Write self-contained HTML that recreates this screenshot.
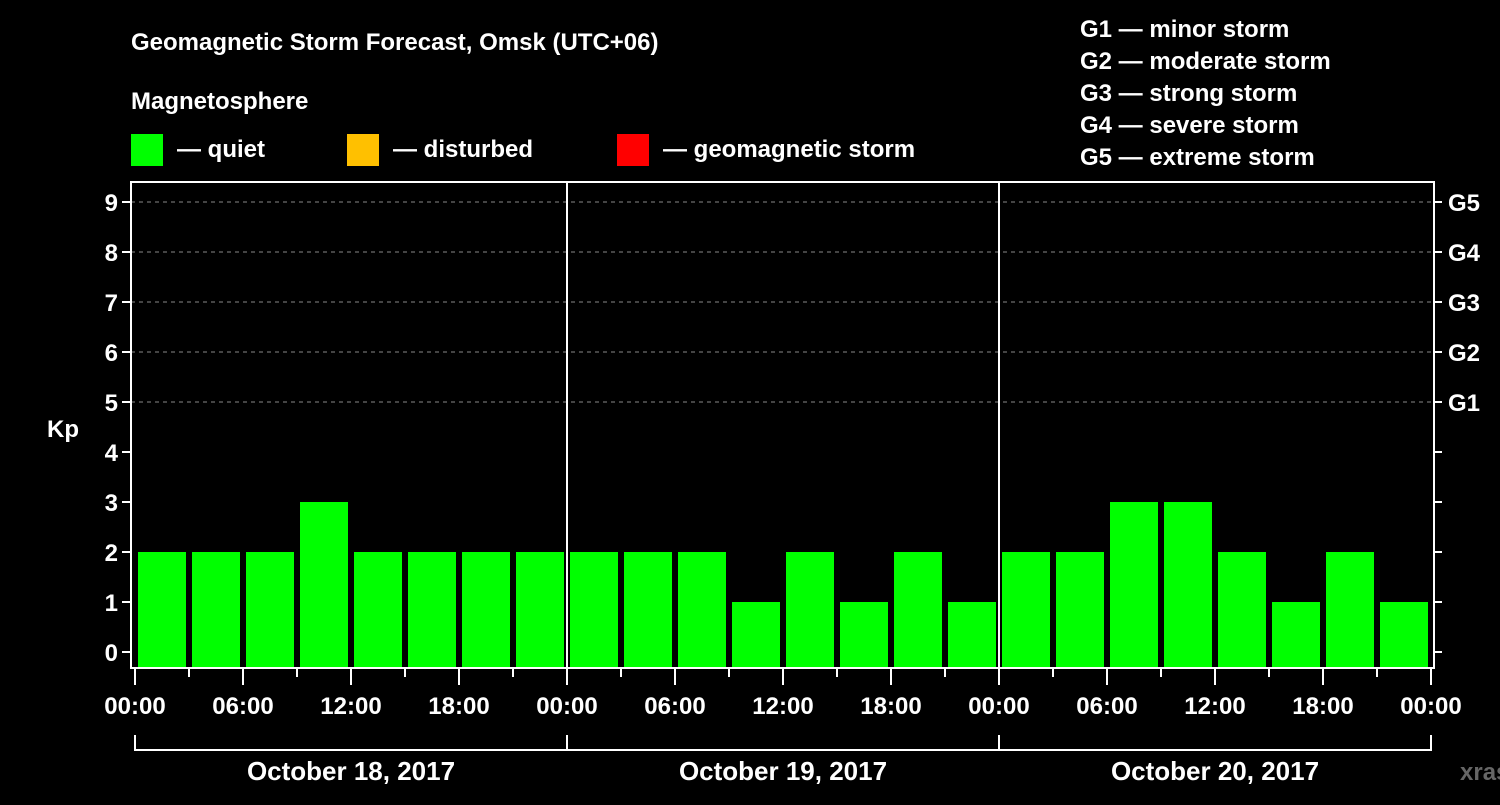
<!DOCTYPE html>
<html><head><meta charset="utf-8"><style>
body{margin:0;background:#000;width:1500px;height:800px;overflow:hidden}
svg text{font-family:"Liberation Sans",Arial,sans-serif;font-weight:bold;fill:#fff}
</style></head><body>
<svg id="c" width="1500" height="800">
<text x="131" y="50" font-size="24">Geomagnetic Storm Forecast, Omsk (UTC+06)</text>
<text x="131" y="109" font-size="24">Magnetosphere</text>
<rect x="131" y="134" width="32" height="32" fill="#00ff00"/>
<text x="177" y="157" font-size="24">— quiet</text>
<rect x="347" y="134" width="32" height="32" fill="#ffc000"/>
<text x="393" y="157" font-size="24">— disturbed</text>
<rect x="617" y="134" width="32" height="32" fill="#ff0000"/>
<text x="663" y="157" font-size="24">— geomagnetic storm</text>
<g font-size="24">
<text x="1080" y="37">G1 — minor storm</text>
<text x="1080" y="69">G2 — moderate storm</text>
<text x="1080" y="101">G3 — strong storm</text>
<text x="1080" y="133">G4 — severe storm</text>
<text x="1080" y="165">G5 — extreme storm</text>
</g>
<text x="63" y="437" font-size="24" text-anchor="middle">Kp</text>
<text x="1460" y="780" font-size="24" fill="#666" style="fill:#666">xras.ru</text>
<g id="g"></g>
</svg>
<script>
const kpValues=[2,2,2,3,2,2,2,2, 2,2,2,1,2,1,2,1, 2,2,3,3,2,1,2,1];
const dayLabels=["October 18, 2017","October 19, 2017","October 20, 2017"];
const yTicks=[0,1,2,3,4,5,6,7,8,9];
const gLabels=["G1","G2","G3","G4","G5"];
const timeLabels=["00:00","06:00","12:00","18:00"];
const X0=135,DAY=432,BOT=668,TOP=182,RIGHT=1434,LEFT=131;
const y=v=>652-v*50;
const x=i=>X0+i*DAY/8;
const g=document.getElementById('g');
const NS="http://www.w3.org/2000/svg";
function el(t,a){const e=document.createElementNS(NS,t);for(const k in a)e.setAttribute(k,a[k]);g.appendChild(e);return e;}
kpValues.forEach((v,i)=>{
 const c=v>=5?"#ff0000":(v>=4?"#ffc000":"#00ff00");
 const r=el('rect',{x:x(i)+3,y:y(v),width:48,height:BOT-y(v),fill:c});
 
 
});
yTicks.forEach(v=>{
 if(v>=5){const l=el('line',{x1:LEFT,x2:RIGHT,y1:y(v),y2:y(v),stroke:'#888','stroke-dasharray':'4,4'});
 }
 el('line',{x1:LEFT-9,x2:LEFT,y1:y(v),y2:y(v),stroke:'#fff','stroke-width':2});
 el('line',{x1:RIGHT,x2:RIGHT+8,y1:y(v),y2:y(v),stroke:'#fff','stroke-width':2});
 const t=el('text',{x:LEFT-13,y:y(v)+9,'font-size':24,'text-anchor':'end'});t.textContent=v;
 
});
gLabels.forEach((s,i)=>{const t=el('text',{x:1448,y:y(5+i)+9,'font-size':24});t.textContent=s;
 });
const f=el('rect',{x:LEFT,y:TOP,width:RIGHT-LEFT,height:BOT-TOP,fill:'none',stroke:'#fff','stroke-width':2});

for(let d=1;d<3;d++)el('line',{x1:X0+d*DAY,x2:X0+d*DAY,y1:TOP,y2:BOT,stroke:'#fff','stroke-width':2});
for(let i=0;i<=24;i++){
 const long=i%2==0;
 el('line',{x1:x(i),x2:x(i),y1:BOT,y2:BOT+(long?17:9),stroke:'#fff','stroke-width':2});
 if(long){const t=el('text',{x:x(i),y:714,'font-size':24,'text-anchor':'middle'});
 t.textContent=timeLabels[(i/2)%4];
 }
}
dayLabels.forEach((s,d)=>{
 const a=X0+d*DAY,b=a+DAY;
 el('path',{d:`M${a} 735V750H${b}V735`,fill:'none',stroke:'#fff','stroke-width':2});
 const t=el('text',{x:a+DAY/2,y:780,'font-size':26,'text-anchor':'middle'});t.textContent=s;
 
});
</script>
</body></html>
